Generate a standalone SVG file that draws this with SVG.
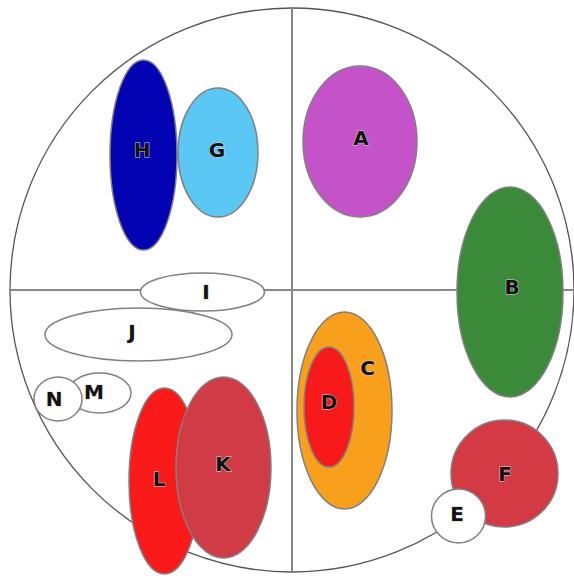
<svg xmlns="http://www.w3.org/2000/svg" width="574" height="576" viewBox="0 0 574 576">
<style>
.bg{fill:#fff}
.frame{fill:none;stroke:#555;stroke-width:1.3}
.axis{stroke:#888;stroke-width:2}
.n{stroke:#808080;stroke-width:1.5}
.w{fill:#fff}
.t{font-family:"DejaVu Sans",Verdana,sans-serif;font-weight:bold;font-size:20px;fill:#111;text-anchor:middle;stroke:#d8d8d8;stroke-width:1;paint-order:stroke}
</style>
<rect class="bg" x="0" y="0" width="574" height="576"/>
<g id="frame">
<circle class="frame" cx="292" cy="290" r="282"/>
<line class="axis" x1="292" y1="8" x2="292" y2="572"/>
<line class="axis" x1="10" y1="290" x2="574" y2="290"/>
</g>
<g id="connectors"></g>
<g id="node-H"><ellipse class="n" cx="143.5" cy="155" rx="33.5" ry="95" fill="#0303B3"/><text class="t" x="142" y="157">H</text></g>
<g id="node-G"><ellipse class="n" cx="218" cy="152.5" rx="40" ry="64.5" fill="#5BC7F4"/><text class="t" x="217" y="157">G</text></g>
<g id="node-A"><ellipse class="n" cx="360" cy="141.5" rx="57" ry="75.5" fill="#C452C8"/><text class="t" x="361" y="145">A</text></g>
<g id="node-B"><ellipse class="n" cx="510" cy="292" rx="53" ry="105" fill="#3B8A3A"/><text class="t" x="512" y="294">B</text></g>
<g id="node-I"><ellipse class="n w" cx="202.5" cy="292" rx="62" ry="19"/><text class="t" x="206" y="299">I</text></g>
<g id="node-J"><ellipse class="n w" cx="138.5" cy="334.5" rx="93.5" ry="26.5"/><text class="t" x="132" y="339">J</text></g>
<g id="node-M"><ellipse class="n w" cx="99.5" cy="393" rx="31.5" ry="20"/><text class="t" x="94" y="399">M</text></g>
<g id="node-N"><ellipse class="n w" cx="58" cy="399" rx="24" ry="22"/><text class="t" x="54" y="406">N</text></g>
<g id="node-L"><ellipse class="n" cx="164.5" cy="481" rx="35.5" ry="93" fill="#FA1A1A"/><text class="t" x="159" y="486">L</text></g>
<g id="node-K"><ellipse class="n" cx="223.5" cy="467.5" rx="47.5" ry="90.5" fill="#D13B46"/><text class="t" x="223" y="471">K</text></g>
<g id="node-C"><ellipse class="n" cx="344.5" cy="410.5" rx="47.5" ry="98.5" fill="#F8A01C"/><text class="t" x="367.5" y="375">C</text></g>
<g id="node-D"><ellipse class="n" cx="329" cy="407" rx="25" ry="60" fill="#F81A1A"/><text class="t" x="329" y="409">D</text></g>
<g id="node-F"><ellipse class="n" cx="504.5" cy="473.5" rx="53.5" ry="53.5" fill="#D33A44"/><text class="t" x="505" y="481">F</text></g>
<g id="node-E"><ellipse class="n w" cx="458.5" cy="516" rx="27" ry="27"/><text class="t" x="457" y="521">E</text></g>
</svg>
